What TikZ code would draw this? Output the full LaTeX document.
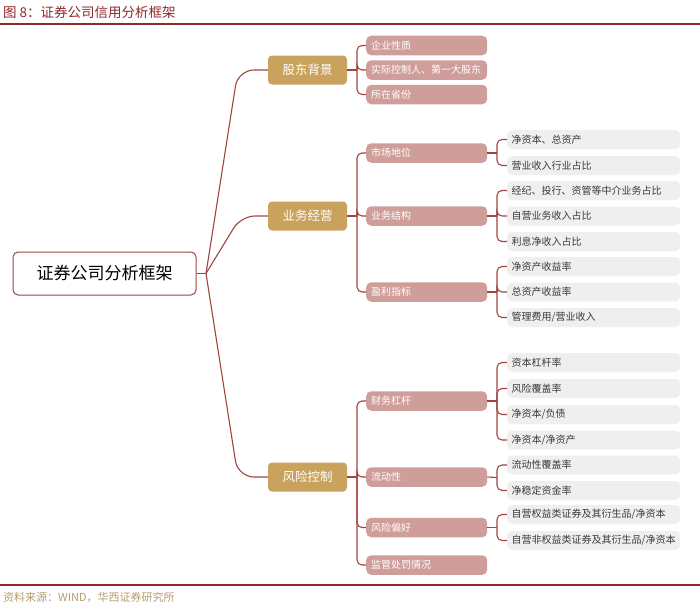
\documentclass[tikz,border=0pt]{standalone}
\usepackage{fontspec}
\setmainfont{Noto Sans CJK SC}
\begin{document}
\begin{tikzpicture}[x=1pt,y=-1pt,
  conn/.style={draw=lineC, line width=1.1pt},
  rootbox/.style={draw=lineC, line width=1pt, fill=white, rounded corners=5pt, minimum width=183pt, minimum height=43pt, inner sep=0pt, font=\fontsize{17}{20}\selectfont, text=black},
  lone/.style={fill=goldC, rounded corners=4pt, minimum width=79pt, minimum height=29pt, inner sep=0pt, font=\fontsize{12.5}{14}\selectfont, text=white},
  ltwo/.style={fill=pinkC, rounded corners=5pt, anchor=west, minimum width=121pt, minimum height=19.5pt, text width=111pt, inner xsep=5pt, inner ysep=0pt, align=left, font=\fontsize{10}{12}\selectfont, text=white},
  lthree/.style={fill=greyC, rounded corners=5pt, anchor=west, minimum width=173pt, minimum height=19pt, text width=164pt, inner xsep=4.5pt, inner ysep=0pt, align=left, font=\fontsize{10}{12}\selectfont, text=textC},
  brk/.style={conn, rounded corners=5pt}
]
\definecolor{lineC}{HTML}{A04440}
\definecolor{goldC}{HTML}{C9A25E}
\definecolor{pinkC}{HTML}{D09E9A}
\definecolor{greyC}{HTML}{EFEFEF}
\definecolor{textC}{HTML}{3A3A3A}
\definecolor{titleC}{HTML}{8E2A2A}
\definecolor{footC}{HTML}{B59C70}
\useasboundingbox (0,0) rectangle (700,610);

% title and rules
\node[anchor=west, inner sep=0pt, text=titleC, font=\fontsize{13.5}{15}\selectfont] (title) at (3,12) {图 8：证券公司信用分析框架};
\draw[draw=titleC, line width=1.4pt] (0,24) -- (700,24);
\draw[draw=titleC, line width=1.4pt] (0,585) -- (700,585);
\node[anchor=west, inner sep=0pt, text=footC, font=\fontsize{11}{13}\selectfont] (foot) at (3,597) {资料来源：WIND，华西证券研究所};

% root
\node[rootbox] (root) at (104.5,273.5) {证券公司分析框架};
\coordinate (br) at (206,273.5);

% level 1
\node[lone] (A) at (307.5,70) {股东背景};
\node[lone] (B) at (307.5,216) {业务经营};
\node[lone] (C) at (307.5,477) {风险控制};

\draw[conn] (root.east) -- (br);
\draw[conn, rounded corners=16pt] (br) -- (238,70) -- (A.west);
\draw[conn, rounded corners=14pt] (br) -- (241,216) -- (B.west);
\draw[conn, rounded corners=16pt] (br) -- (238,477) -- (C.west);

% level 2 : A
\node[ltwo] (A1) at (366,45.5) {企业性质};
\node[ltwo] (A2) at (366,70) {实际控制人、第一大股东};
\node[ltwo] (A3) at (366,94.5) {所在省份};
\coordinate (ja) at (357,70);
\draw[conn] (A.east) -- (ja);
\foreach \n in {A1,A2,A3} \draw[brk] (ja) |- (\n.west);

% level 2 : B
\node[ltwo] (B1) at (366,153) {市场地位};
\node[ltwo] (B2) at (366,216) {业务结构};
\node[ltwo] (B3) at (366,292) {盈利指标};
\coordinate (jb) at (357,216);
\draw[conn] (B.east) -- (jb);
\foreach \n in {B1,B2,B3} \draw[brk] (jb) |- (\n.west);

% level 2 : C
\node[ltwo] (C1) at (366,401) {财务杠杆};
\node[ltwo] (C2) at (366,477) {流动性};
\node[ltwo] (C3) at (366,527.5) {风险偏好};
\node[ltwo] (C4) at (366,565) {监管处罚情况};
\coordinate (jc) at (357,477);
\draw[conn] (C.east) -- (jc);
\foreach \n in {C1,C2,C3,C4} \draw[brk] (jc) |- (\n.west);

% level 3 : B1
\node[lthree] (B11) at (507,139.5) {净资本、总资产};
\node[lthree] (B12) at (507,165.5) {营业收入行业占比};
\coordinate (jb1) at (497,153);
\draw[conn] (B1.east) -- (jb1);
\foreach \n in {B11,B12} \draw[brk] (jb1) |- (\n.west);

% level 3 : B2
\node[lthree] (B21) at (507,190.5) {经纪、投行、资管等中介业务占比};
\node[lthree] (B22) at (507,216) {自营业务收入占比};
\node[lthree] (B23) at (507,241.5) {利息净收入占比};
\coordinate (jb2) at (497,216);
\draw[conn] (B2.east) -- (jb2);
\foreach \n in {B21,B22,B23} \draw[brk] (jb2) |- (\n.west);

% level 3 : B3
\node[lthree] (B31) at (507,266.5) {净资产收益率};
\node[lthree] (B32) at (507,292) {总资产收益率};
\node[lthree] (B33) at (507,317.5) {管理费用/营业收入};
\coordinate (jb3) at (497,292);
\draw[conn] (B3.east) -- (jb3);
\foreach \n in {B31,B32,B33} \draw[brk] (jb3) |- (\n.west);

% level 3 : C1
\node[lthree] (C11) at (507,362.5) {资本杠杆率};
\node[lthree] (C12) at (507,388.5) {风险覆盖率};
\node[lthree] (C13) at (507,414.5) {净资本/负债};
\node[lthree] (C14) at (507,440) {净资本/净资产};
\coordinate (jc1) at (497,401);
\draw[conn] (C1.east) -- (jc1);
\foreach \n in {C11,C12,C13,C14} \draw[brk] (jc1) |- (\n.west);

% level 3 : C2
\node[lthree] (C21) at (507,465) {流动性覆盖率};
\node[lthree] (C22) at (507,490.5) {净稳定资金率};
\coordinate (jc2) at (497,477.5);
\draw[conn] (C2.east) -- (jc2);
\foreach \n in {C21,C22} \draw[brk] (jc2) |- (\n.west);

% level 3 : C3
\node[lthree] (C31) at (507,514.5) {自营权益类证券及其衍生品/净资本};
\node[lthree] (C32) at (507,540.5) {自营非权益类证券及其衍生品/净资本};
\coordinate (jc3) at (497,527.5);
\draw[conn] (C3.east) -- (jc3);
\foreach \n in {C31,C32} \draw[brk] (jc3) |- (\n.west);
\end{tikzpicture}
\end{document}
